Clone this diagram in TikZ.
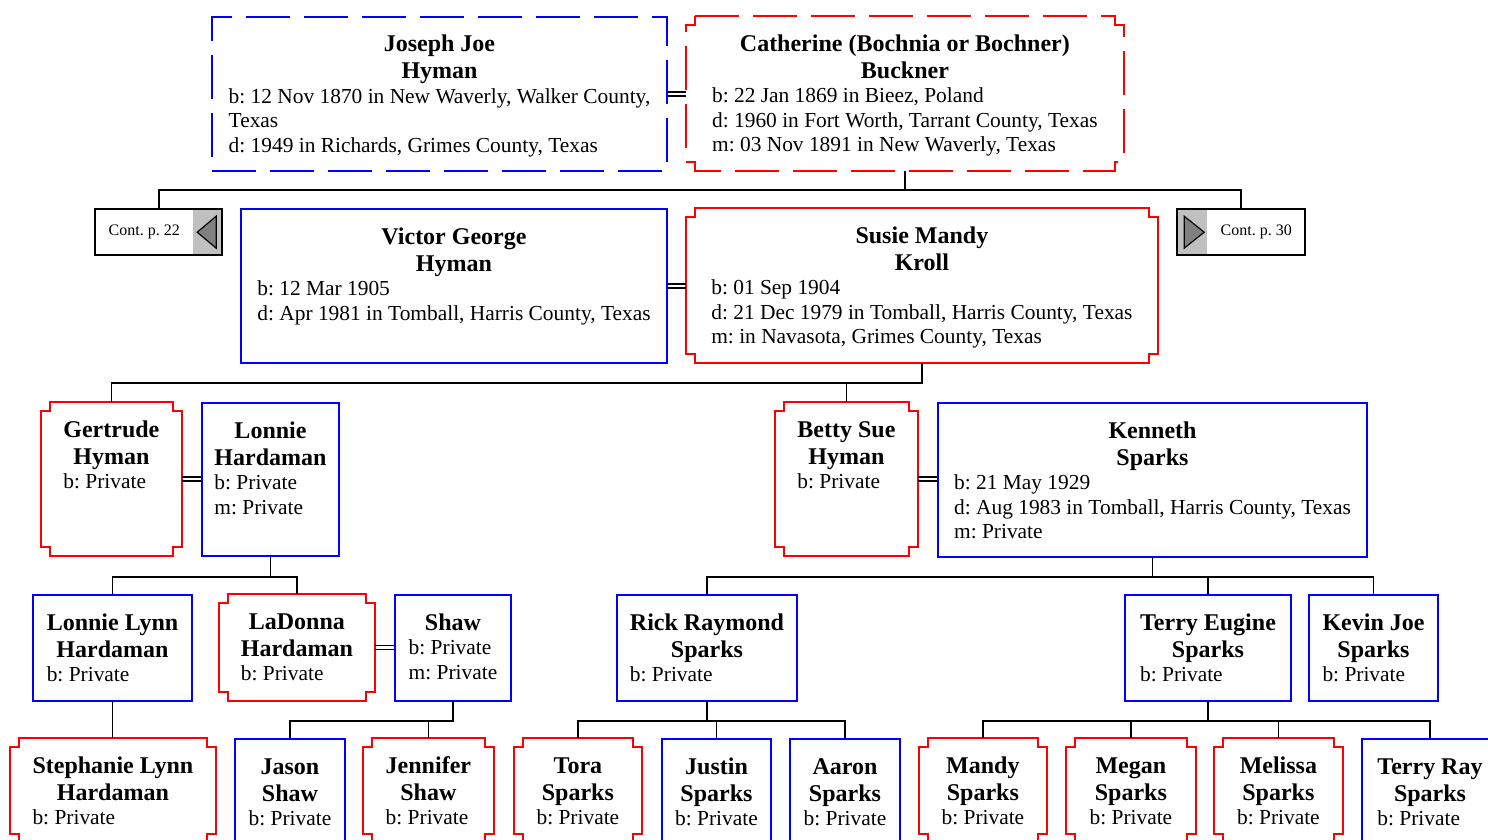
\documentclass[tikz,border=0pt]{standalone}
\usepackage{fontspec}
\setmainfont{Liberation Serif}
\usepackage{tikz}
\definecolor{mblue}{RGB}{0,0,255}
\definecolor{fred}{RGB}{255,0,0}
\definecolor{tabgray}{RGB}{192,192,192}
\definecolor{arrgray}{RGB}{128,128,128}
\frenchspacing
\newcommand{\pn}[1]{\multicolumn{1}{@{}c@{}}{\fontsize{12}{13.5}\selectfont\bfseries #1}}
\newcommand{\card}[3]{\begin{tabular}[t]{@{}l@{}}\pn{#1}\\[1.25pt]\pn{#2}\\#3\end{tabular}}
\newcommand{\cardone}[2]{\begin{tabular}[t]{@{}l@{}}\pn{#1}\\#2\end{tabular}}
\newcommand{\nt}{4.5pt}
\newcommand{\notched}[2][]{\draw[femline,#1] ([xshift=\nt]#2.north west) -- ([xshift=-\nt]#2.north east)
  -- ([shift={(-\nt,-\nt)}]#2.north east) -- ([yshift=-\nt]#2.north east)
  -- ([yshift=\nt]#2.south east) -- ([shift={(-\nt,\nt)}]#2.south east)
  -- ([xshift=-\nt]#2.south east) -- ([xshift=\nt]#2.south west)
  -- ([shift={(\nt,\nt)}]#2.south west) -- ([yshift=\nt]#2.south west)
  -- ([yshift=-\nt]#2.north west) -- ([shift={(\nt,-\nt)}]#2.north west) -- cycle;}

\begin{document}
\begin{tikzpicture}[x=0.5pt, y=-0.5pt, font=\fontsize{10.7}{12.25}\selectfont]
\tikzstyle{person} = [rectangle, anchor=north west, inner sep=0pt, text height=17.5pt]
\tikzstyle{male} = [person, draw=mblue, line width=1pt]
\tikzstyle{female} = [person]
\tikzstyle{femline} = [draw=fred, line width=1pt]
\tikzstyle{rowa} = [text depth=59.5pt]
\tikzstyle{rowb} = [text depth=59pt]
\tikzstyle{rowc} = [text depth=35.5pt]
\tikzstyle{rowd} = [text depth=34.5pt]
\tikzstyle{cont} = [rectangle, anchor=north west, inner sep=0pt, draw=black, line width=1.2pt, minimum height=23pt, font=\fontsize{8}{9.6}\selectfont]
\tikzstyle{backtab} = [path picture={
  \fill[tabgray] ([xshift=-14.5pt]path picture bounding box.north east) rectangle (path picture bounding box.south east);
  \filldraw[fill=arrgray, draw=black, line width=0.6pt] ([xshift=-12.5pt]path picture bounding box.east) -- ++(9.5pt,8pt) -- ++(0,-16pt) -- cycle;}]
\tikzstyle{fwdtab} = [path picture={
  \fill[tabgray] (path picture bounding box.north west) rectangle ([xshift=15pt]path picture bounding box.south west);
  \filldraw[fill=arrgray, draw=black, line width=0.6pt] ([xshift=13.5pt]path picture bounding box.west) -- ++(-10pt,8pt) -- ++(0,-16pt) -- cycle;}]
\tikzstyle{wed} = [line width=0.75pt]
\tikzstyle{link} = [line width=0.9pt]
\tikzstyle{dashbox} = [dash pattern=on 22pt off 7pt]

\useasboundingbox (0,0) rectangle (1488,840);
\clip (0,0) rectangle (1488,840);

\node (joseph) [male, rowa, dashbox, minimum width=227.5pt] at (211,16) {\card{Joseph Joe}{Hyman}{b: 12 Nov 1870 in New Waverly, Walker County,\\Texas\\d: 1949 in Richards, Grimes County, Texas}};
\node (catherine) [female, rowa, minimum width=218.5pt] at (686,16) {\card{Catherine (Bochnia or Bochner)}{Buckner}{b: 22 Jan 1869 in Bieez, Poland\\d: 1960 in Fort Worth, Tarrant County, Texas\\m: 03 Nov 1891 in New Waverly, Texas}};
\notched[dashbox]{catherine}
\node (cont22) [cont, backtab, minimum width=63.5pt] at (94,208) {Cont. p. 22\hspace*{14.5pt}};
\node (cont30) [cont, fwdtab, minimum width=64pt] at (1176,208) {\hspace*{15pt}Cont. p. 30};
\node (victor) [male, rowa, minimum width=213pt] at (240,208) {\card{Victor George}{Hyman}{b: 12 Mar 1905\\d: Apr 1981 in Tomball, Harris County, Texas}};
\node (susie) [female, rowa, minimum width=235.5pt] at (686,208) {\card{Susie Mandy}{Kroll}{b: 01 Sep 1904\\d: 21 Dec 1979 in Tomball, Harris County, Texas\\m: in Navasota, Grimes County, Texas}};
\notched{susie}
\node (gertrude) [female, rowb, minimum width=70pt] at (41,402) {\card{Gertrude}{Hyman}{b: Private}};
\notched{gertrude}
\node (lonnie) [male, rowb, minimum width=68.5pt] at (201,402) {\card{Lonnie}{Hardaman}{b: Private\\m: Private}};
\node (betty) [female, rowb, minimum width=71pt] at (775,402) {\card{Betty Sue}{Hyman}{b: Private}};
\notched{betty}
\node (kenneth) [male, rowa, minimum width=214.5pt] at (937,402) {\card{Kenneth}{Sparks}{b: 21 May 1929\\d: Aug 1983 in Tomball, Harris County, Texas\\m: Private}};
\node (lonnielynn) [male, rowc, minimum width=79.5pt] at (32,594) {\card{Lonnie Lynn}{Hardaman}{b: Private}};
\node (ladonna) [female, rowc, minimum width=77.5pt] at (219,594) {\card{LaDonna}{Hardaman}{b: Private}};
\notched{ladonna}
\node (shaw) [male, rowc, minimum width=58pt] at (394,594) {\cardone{Shaw}{b: Private\\m: Private}};
\node (rick) [male, rowc, minimum width=90pt] at (616,594) {\card{Rick Raymond}{Sparks}{b: Private}};
\node (terry) [male, rowc, minimum width=83pt] at (1124,594) {\card{Terry Eugine}{Sparks}{b: Private}};
\node (kevin) [male, rowc, minimum width=64.5pt] at (1308,594) {\card{Kevin Joe}{Sparks}{b: Private}};
\node (stephanie) [female, rowd, minimum width=102.5pt] at (10,738) {\card{Stephanie Lynn}{Hardaman}{b: Private}};
\notched{stephanie}
\node (jason) [male, rowd, minimum width=55pt] at (234,738) {\card{Jason}{Shaw}{b: Private}};
\node (jennifer) [female, rowd, minimum width=65pt] at (363,738) {\card{Jennifer}{Shaw}{b: Private}};
\notched{jennifer}
\node (tora) [female, rowd, minimum width=63.5pt] at (514,738) {\card{Tora}{Sparks}{b: Private}};
\notched{tora}
\node (justin) [male, rowd, minimum width=54.5pt] at (661,738) {\card{Justin}{Sparks}{b: Private}};
\node (aaron) [male, rowd, minimum width=55pt] at (789,738) {\card{Aaron}{Sparks}{b: Private}};
\node (mandy) [female, rowd, minimum width=63.5pt] at (919,738) {\card{Mandy}{Sparks}{b: Private}};
\notched{mandy}
\node (megan) [female, rowd, minimum width=64.5pt] at (1066,738) {\card{Megan}{Sparks}{b: Private}};
\notched{megan}
\node (melissa) [female, rowd, minimum width=64pt] at (1214,738) {\card{Melissa}{Sparks}{b: Private}};
\notched{melissa}
\node (terryray) [male, rowd, minimum width=68pt] at (1361,738) {\card{Terry Ray}{Sparks}{b: Private}};

\draw [wed] ([yshift=1pt]joseph.east) -- ([yshift=1pt]joseph.east -| catherine.west);
\draw [wed] ([yshift=-1pt]joseph.east) -- ([yshift=-1pt]joseph.east -| catherine.west);
\draw [wed] ([yshift=1pt]victor.east) -- ([yshift=1pt]victor.east -| susie.west);
\draw [wed] ([yshift=-1pt]victor.east) -- ([yshift=-1pt]victor.east -| susie.west);
\draw [wed] ([yshift=1pt]gertrude.east) -- ([yshift=1pt]gertrude.east -| lonnie.west);
\draw [wed] ([yshift=-1pt]gertrude.east) -- ([yshift=-1pt]gertrude.east -| lonnie.west);
\draw [wed] ([yshift=1pt]betty.east) -- ([yshift=1pt]betty.east -| kenneth.west);
\draw [wed] ([yshift=-1pt]betty.east) -- ([yshift=-1pt]betty.east -| kenneth.west);
\draw [wed] ([yshift=1pt]ladonna.east) -- ([yshift=1pt]ladonna.east -| shaw.west);
\draw [wed] ([yshift=-1pt]ladonna.east) -- ([yshift=-1pt]ladonna.east -| shaw.west);

\draw [link] (catherine.south) -- ++(0,19) -| (cont22.north);
\draw [link] (catherine.south) -- ++(0,19) -| (cont30.north);
\draw [link] (susie.south) -- ++(0,20) -| (gertrude.north);
\draw [link] (susie.south) -- ++(0,20) -| (betty.north);
\draw [link] (lonnie.south) -- ++(0,20) -| (lonnielynn.north);
\draw [link] (lonnie.south) -- ++(0,20) -| (ladonna.north);
\draw [link] (kenneth.south) -- ++(0,19) -| (rick.north);
\draw [link] (kenneth.south) -- ++(0,19) -| (terry.north);
\draw [link] (kenneth.south) -- ++(0,19) -| (kevin.north);
\draw [link] (lonnielynn.south) -- (lonnielynn.south |- stephanie.north);
\draw [link] (shaw.south) -- ++(0,19) -| (jason.north);
\draw [link] (shaw.south) -- ++(0,19) -| (jennifer.north);
\draw [link] (rick.south) -- ++(0,19) -| (tora.north);
\draw [link] (rick.south) -- ++(0,19) -| (justin.north);
\draw [link] (rick.south) -- ++(0,19) -| (aaron.north);
\draw [link] (terry.south) -- ++(0,19) -| (mandy.north);
\draw [link] (terry.south) -- ++(0,19) -| (megan.north);
\draw [link] (terry.south) -- ++(0,19) -| (melissa.north);
\draw [link] (terry.south) -- ++(0,19) -| (terryray.north);
\end{tikzpicture}
\end{document}
